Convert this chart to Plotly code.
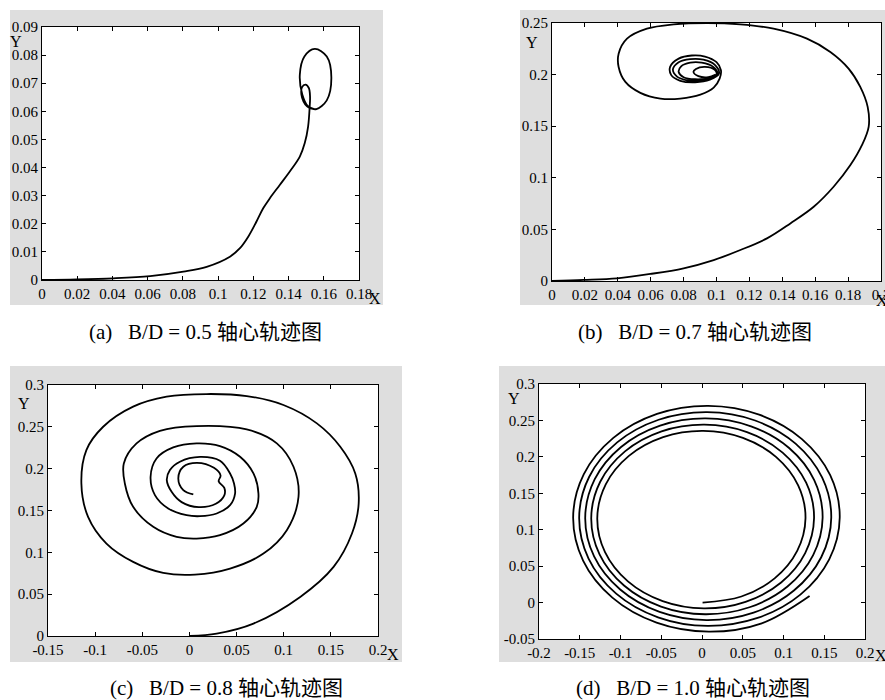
import plotly.graph_objects as go

# ---------------- data ----------------
# (a) B/D = 0.5
a_x = [0, 0.0198, 0.0406, 0.0614, 0.0803, 0.0935, 0.1067, 0.1124, 0.1171, 0.1218, 0.1256, 0.1294,
       0.1350, 0.1407, 0.1464, 0.1492, 0.1511, 0.1520, 0.1522, 0.1515, 0.1496, 0.1476, 0.1473, 0.1485,
       0.1505, 0.1530, 0.1558, 0.1617, 0.1643, 0.1617, 0.1549, 0.1490, 0.1464, 0.1478, 0.1510, 0.1550]
a_y = [0, 0.0002, 0.0006, 0.0014, 0.0030, 0.0047, 0.0083, 0.0113, 0.0154, 0.0208, 0.0255, 0.0291,
       0.0338, 0.0386, 0.0439, 0.0487, 0.0546, 0.0617, 0.0653, 0.0683, 0.0695, 0.0685, 0.0659, 0.0635,
       0.0618, 0.0610, 0.0608, 0.0639, 0.0720, 0.0795, 0.0822, 0.0795, 0.0730, 0.0660, 0.0618, 0.0607]

# (b) B/D = 0.7
b_x = [0, 0.0193, 0.0395, 0.0598, 0.0800, 0.0983, 0.1145, 0.1307, 0.1449, 0.1591, 0.1712, 0.1814,
       0.1884, 0.1925, 0.1919, 0.1874, 0.1803, 0.1692, 0.1550, 0.1347, 0.1145, 0.0942, 0.0740, 0.0577,
       0.0456, 0.0405, 0.0405, 0.0446, 0.0537, 0.0659, 0.0780, 0.0902, 0.0983, 0.1019,
       0.1027, 0.1000, 0.0930, 0.0850, 0.0770, 0.0718, 0.0725, 0.0780, 0.0870, 0.0960, 0.1015,
       0.0990, 0.0920, 0.0840, 0.0770, 0.0735, 0.0760, 0.0820, 0.0900, 0.0970, 0.1005,
       0.0980, 0.0910, 0.0840, 0.0785, 0.0770, 0.0800, 0.0870, 0.0950, 0.1000,
       0.0990, 0.0930, 0.0875, 0.0860, 0.0890, 0.0950, 0.0995]
b_y = [0, 0.0010, 0.0026, 0.0068, 0.0123, 0.0203, 0.0300, 0.0413, 0.0558, 0.0719, 0.0913, 0.1123,
       0.1316, 0.1494, 0.1687, 0.1881, 0.2058, 0.2219, 0.2348, 0.2445, 0.2487, 0.2500, 0.2487, 0.2445,
       0.2348, 0.2203, 0.2074, 0.1929, 0.1823, 0.1768, 0.1768, 0.1806, 0.1874, 0.1961,
       0.2042, 0.2120, 0.2175, 0.2185, 0.2155, 0.2075, 0.1995, 0.1940, 0.1925, 0.1950, 0.2010,
       0.2095, 0.2145, 0.2150, 0.2120, 0.2050, 0.1980, 0.1945, 0.1940, 0.1965, 0.2015,
       0.2075, 0.2115, 0.2115, 0.2080, 0.2025, 0.1975, 0.1955, 0.1965, 0.2000,
       0.2045, 0.2075, 0.2055, 0.2025, 0.1985, 0.1975, 0.2000]

# (c) B/D = 0.8
c_x = [0.0006, 0.0289, 0.0679, 0.1175, 0.1529, 0.1724, 0.1795, 0.1759, 0.1600, 0.1352, 0.0997, 0.0608,
       0.0183, -0.0242, -0.0597, -0.0915, -0.1093, -0.1146, -0.1075, -0.0880, -0.0597, -0.0278, 0.0059,
       0.0431, 0.0785, 0.1033, 0.1157, 0.1104, 0.0927, 0.0608, 0.0076, -0.0313, -0.0561, -0.0696,
       -0.0685, -0.0597, -0.0384, -0.0136, 0.0076,
       0.0324, 0.0572, 0.0714, 0.0732, 0.0679, 0.0537, 0.0324, 0.0076, -0.0172, -0.0349, -0.0412,
       -0.0366, -0.0225, -0.0030, 0.0112,
       0.0289, 0.0431, 0.0484, 0.0473, 0.0431, 0.0324, 0.0112, -0.0101, -0.0207, -0.0240, -0.0189,
       -0.0083, 0.0100,
       0.0280, 0.0370, 0.0370, 0.0310, 0.0330, 0.0260, 0.0080, -0.0065, -0.0118, -0.0065, 0.0041]
c_y = [0.0000, 0.0028, 0.0148, 0.0467, 0.0826, 0.1225, 0.1584, 0.1943, 0.2262, 0.2541, 0.2761, 0.2868,
       0.2892, 0.2860, 0.2741, 0.2501, 0.2222, 0.1823, 0.1424, 0.1105, 0.0886, 0.0754, 0.0734,
       0.0806, 0.0985, 0.1265, 0.1664, 0.2023, 0.2302, 0.2469, 0.2509, 0.2453, 0.2302, 0.2063,
       0.1823, 0.1544, 0.1305, 0.1185, 0.1165,
       0.1205, 0.1344, 0.1544, 0.1703, 0.1943, 0.2142, 0.2270, 0.2302, 0.2254, 0.2122, 0.1903,
       0.1684, 0.1524, 0.1444, 0.1432,
       0.1464, 0.1564, 0.1703, 0.1823, 0.1943, 0.2094, 0.2140, 0.2083, 0.1983, 0.1863, 0.1723,
       0.1600, 0.1540,
       0.1580, 0.1680, 0.1770, 0.1850, 0.1920, 0.2010, 0.2070, 0.2023, 0.1883, 0.1743, 0.1692]

# (d) B/D = 1.0
d_x = [0.0007, 0.0483, 0.0891, 0.1168, 0.1270, 0.1180, 0.0911, 0.0502,
       0.0015, -0.0477, -0.0897, -0.1181, -0.1285, -0.1190, -0.0909, -0.0483,
       0.0023, 0.0534, 0.0971, 0.1266, 0.1375, 0.1278, 0.0989, 0.0552,
       0.0030, -0.0496, -0.0945, -0.1249, -0.1359, -0.1257, -0.0957, -0.0503,
       0.0038, 0.0583, 0.1049, 0.1364, 0.1480, 0.1377, 0.1069, 0.0602,
       0.0046, -0.0514, -0.0993, -0.1316, -0.1433, -0.1324, -0.1004, -0.0521,
       0.0054, 0.0633, 0.1128, 0.1463, 0.1586, 0.1475, 0.1148, 0.0652,
       0.0062, -0.0532, -0.1041, -0.1384, -0.1507, -0.1392, -0.1053, -0.0540,
       0.0069, 0.0682, 0.1207, 0.1561, 0.1690, 0.1573, 0.1226, 0.0701,
       0.0077, -0.0552, -0.1088, -0.1450, -0.1581, -0.1459, -0.1100, -0.0558,
       0.0085, 0.0733, 0.1320]
d_y = [0.0000, 0.0083, 0.0332, 0.0709, 0.1157, 0.1610, 0.1997, 0.2260,
       0.2356, 0.2270, 0.2013, 0.1623, 0.1159, 0.0691, 0.0290, 0.0019,
       -0.0080, 0.0010, 0.0276, 0.0680, 0.1160, 0.1645, 0.2059, 0.2340,
       0.2442, 0.2350, 0.2075, 0.1658, 0.1162, 0.0662, 0.0234, -0.0055,
       -0.0160, -0.0064, 0.0220, 0.0651, 0.1163, 0.1680, 0.2121, 0.2419,
       0.2528, 0.2429, 0.2136, 0.1693, 0.1165, 0.0633, 0.0179, -0.0128,
       -0.0240, -0.0138, 0.0165, 0.0622, 0.1166, 0.1714, 0.2182, 0.2499,
       0.2614, 0.2509, 0.2198, 0.1727, 0.1168, 0.0604, 0.0123, -0.0202,
       -0.0320, -0.0211, 0.0109, 0.0594, 0.1169, 0.1749, 0.2244, 0.2579,
       0.2700, 0.2589, 0.2260, 0.1762, 0.1171, 0.0575, 0.0067, -0.0276,
       -0.0400, -0.0285, 0.0090]

# tick values / labels
a_xticks = [0, 0.02, 0.04, 0.06, 0.08, 0.1, 0.12, 0.14, 0.16, 0.18]
a_xlabels = ["0", "0.02", "0.04", "0.06", "0.08", "0.1", "0.12", "0.14", "0.16", "0.18"]
a_yticks = [0, 0.01, 0.02, 0.03, 0.04, 0.05, 0.06, 0.07, 0.08, 0.09]
a_ylabels = ["0", "0.01", "0.02", "0.03", "0.04", "0.05", "0.06", "0.07", "0.08", "0.09"]
b_xticks = [0, 0.02, 0.04, 0.06, 0.08, 0.1, 0.12, 0.14, 0.16, 0.18, 0.2]
b_xlabels = ["0", "0.02", "0.04", "0.06", "0.08", "0.1", "0.12", "0.14", "0.16", "0.18", "0.2"]
b_yticks = [0, 0.05, 0.1, 0.15, 0.2, 0.25]
b_ylabels = ["0", "0.05", "0.1", "0.15", "0.2", "0.25"]
c_xticks = [-0.15, -0.1, -0.05, 0, 0.05, 0.1, 0.15, 0.2]
c_xlabels = ["-0.15", "-0.1", "-0.05", "0", "0.05", "0.1", "0.15", "0.2"]
c_yticks = [0, 0.05, 0.1, 0.15, 0.2, 0.25, 0.3]
c_ylabels = ["0", "0.05", "0.1", "0.15", "0.2", "0.25", "0.3"]
d_xticks = [-0.2, -0.15, -0.1, -0.05, 0, 0.05, 0.1, 0.15, 0.2]
d_xlabels = ["-0.2", "-0.15", "-0.1", "-0.05", "0", "0.05", "0.1", "0.15", "0.2"]
d_yticks = [-0.05, 0, 0.05, 0.1, 0.15, 0.2, 0.25, 0.3]
d_ylabels = ["-0.05", "0", "0.05", "0.1", "0.15", "0.2", "0.25", "0.3"]

captions = ["(a)\u00a0\u00a0\u00a0B/D\u00a0=\u00a00.5\u00a0轴心轨迹图",
            "(b)\u00a0\u00a0\u00a0B/D\u00a0=\u00a00.7\u00a0轴心轨迹图",
            "(c)\u00a0\u00a0\u00a0B/D\u00a0=\u00a00.8\u00a0轴心轨迹图",
            "(d)\u00a0\u00a0\u00a0B/D\u00a0=\u00a01.0\u00a0轴心轨迹图"]

# ---------------- layout ----------------
W, H = 885, 700
def px(x):
    return x / W
def py(y):
    return 1 - y / H

SERIF = "Liberation Serif"
CAPFONT = "Liberation Serif, Noto Sans CJK SC"

panels = [
    dict(x=a_x, y=a_y, xr=[0, 0.18], yr=[0, 0.09], xt=a_xticks, xl=a_xlabels, yt=a_yticks, yl=a_ylabels,
         area=(42, 27, 359, 280), bg=(10, 10, 383, 305), cap=(205, 332), X=(375, 298), Y=(16, 41)),
    dict(x=b_x, y=b_y, xr=[0, 0.2], yr=[0, 0.25], xt=b_xticks, xl=b_xlabels, yt=b_yticks, yl=b_ylabels,
         area=(552, 23, 881, 281), bg=(520, 10, 885, 305), cap=(695, 332), X=(882, 300), Y=(532, 43)),
    dict(x=c_x, y=c_y, xr=[-0.15, 0.2], yr=[0, 0.3], xt=c_xticks, xl=c_xlabels, yt=c_yticks, yl=c_ylabels,
         area=(48, 385, 378, 636), bg=(10, 366, 402, 662), cap=(226, 688), X=(393, 654), Y=(24, 403)),
    dict(x=d_x, y=d_y, xr=[-0.2, 0.2], yr=[-0.05, 0.3], xt=d_xticks, xl=d_xlabels, yt=d_yticks, yl=d_ylabels,
         area=(539, 384, 865, 639), bg=(499, 366, 885, 662), cap=(693, 688), X=(881, 655), Y=(514, 398)),
]

fig = go.Figure()
shapes = []
annotations = []
layout = {}

for i, p in enumerate(panels):
    n = "" if i == 0 else str(i + 1)
    x0, y0, x1, y1 = p["area"]
    xspan = p["xr"][1] - p["xr"][0]
    yspan = p["yr"][1] - p["yr"][0]
    fig.add_trace(go.Scatter(x=p["x"], y=p["y"], mode="lines",
                             line=dict(color="black", width=1.8, shape="spline", smoothing=1.0),
                             xaxis="x" + n, yaxis="y" + n, showlegend=False, hoverinfo="skip"))
    common = dict(showline=True, linecolor="black", linewidth=1, mirror="ticks", ticks="inside",
                  ticklen=4, tickcolor="black", tickwidth=1, showgrid=False, zeroline=False,
                  tickfont=dict(family=SERIF, size=15, color="black"), fixedrange=True,
                  ticklabeloverflow="allow", automargin=False)
    layout["xaxis" + n] = dict(domain=[px(x0), px(x1)],
                               range=[p["xr"][0] - xspan * 1e-5, p["xr"][1] + xspan * 1e-5],
                               tickmode="array", tickvals=p["xt"], ticktext=p["xl"], anchor="y" + n, **common)
    layout["yaxis" + n] = dict(domain=[py(y1), py(y0)],
                               range=[p["yr"][0] - yspan * 1e-5, p["yr"][1] + yspan * 1e-5],
                               tickmode="array", tickvals=p["yt"], ticktext=p["yl"], anchor="x" + n, **common)
    bx0, by0, bx1, by1 = p["bg"]
    shapes.append(dict(type="rect", xref="paper", yref="paper", x0=px(bx0), x1=px(bx1), y0=py(by1), y1=py(by0),
                       fillcolor="#dedede", line=dict(width=0), layer="below"))
    shapes.append(dict(type="rect", xref="paper", yref="paper", x0=px(x0), x1=px(x1), y0=py(y1), y1=py(y0),
                       fillcolor="white", line=dict(width=0), layer="below"))
    annotations.append(dict(text=captions[i], x=px(p["cap"][0]), y=py(p["cap"][1]), xref="paper", yref="paper",
                            showarrow=False, xanchor="center", yanchor="middle",
                            font=dict(family=CAPFONT, size=21, color="black")))
    annotations.append(dict(text="X", x=px(p["X"][0]), y=py(p["X"][1]), xref="paper", yref="paper",
                            showarrow=False, xanchor="center", yanchor="middle",
                            font=dict(family=SERIF, size=16, color="black")))
    annotations.append(dict(text="Y", x=px(p["Y"][0]), y=py(p["Y"][1]), xref="paper", yref="paper",
                            showarrow=False, xanchor="center", yanchor="middle",
                            font=dict(family=SERIF, size=16, color="black")))

fig.update_layout(width=W, height=H, margin=dict(l=0, r=0, t=0, b=0), paper_bgcolor="white",
                  plot_bgcolor="white", shapes=shapes, annotations=annotations, **layout)
fig.write_html("out.html", config={"displayModeBar": False},
               post_script="document.body.style.margin='0';document.body.style.overflow='hidden';")
